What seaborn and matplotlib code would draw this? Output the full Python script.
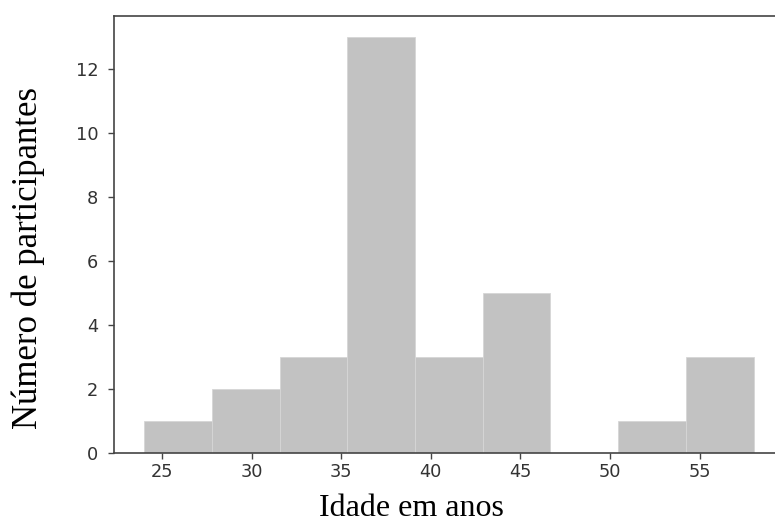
"""Histograma das idades dos participantes."""

import matplotlib

matplotlib.use("Agg")

import matplotlib.pyplot as plt
import numpy as np
import seaborn as sns

# Limites das classes (anos) e contagens.
bin_edges = [24.0, 27.78, 31.56, 35.33, 39.11, 42.89, 46.67, 50.44, 54.22, 58.0]
counts = [1, 2, 3, 13, 3, 5, 0, 1, 3]
x_ticks = [25, 30, 35, 40, 45, 50, 55]
y_ticks = [0, 2, 4, 6, 8, 10, 12]

x_label = "Idade em anos"
y_label = "Número de participantes"


def main() -> None:
    sns.set_style("ticks")
    plt.rcParams.update(
        {
            "axes.edgecolor": "#444444",
            "axes.linewidth": 1.2,
            "xtick.color": "#444444",
            "ytick.color": "#444444",
            "xtick.labelcolor": "#333333",
            "ytick.labelcolor": "#333333",
            "xtick.major.size": 4,
            "ytick.major.size": 4,
            "xtick.major.width": 1.0,
            "ytick.major.width": 1.0,
        }
    )
    plt.rcParams["font.family"] = ["DejaVu Sans"]

    fig = plt.figure(figsize=(7.75, 5.24), dpi=100)
    ax = fig.add_axes([113.5 / 775, 71.3 / 524, (784 - 113.5) / 775, (452.7 - 16) / 524])

    edges = np.array(bin_edges)
    mids = (edges[:-1] + edges[1:]) / 2
    sns.histplot(
        x=mids,
        weights=counts,
        bins=bin_edges,
        color="#c2c2c2",
        alpha=1.0,
        edgecolor="#d6d6d6",
        linewidth=0.6,
        ax=ax,
    )

    ax.set_xticks(x_ticks)
    ax.set_yticks(y_ticks)
    ax.tick_params(labelsize=12.8)
    ax.tick_params(axis="y", pad=7)
    ax.set_xlabel(x_label, family="Liberation Serif", fontsize=23, color="black")
    ax.set_ylabel(y_label, family="Liberation Serif", fontsize=25, color="black")
    ax.xaxis.set_label_coords(0.445, -0.095)
    ax.yaxis.set_label_coords(-0.102, 0.445)
    ax.margins(x=0.05, y=0.05)

    fig.savefig("out.png", dpi=100)
    plt.close(fig)


if __name__ == "__main__":
    main()
